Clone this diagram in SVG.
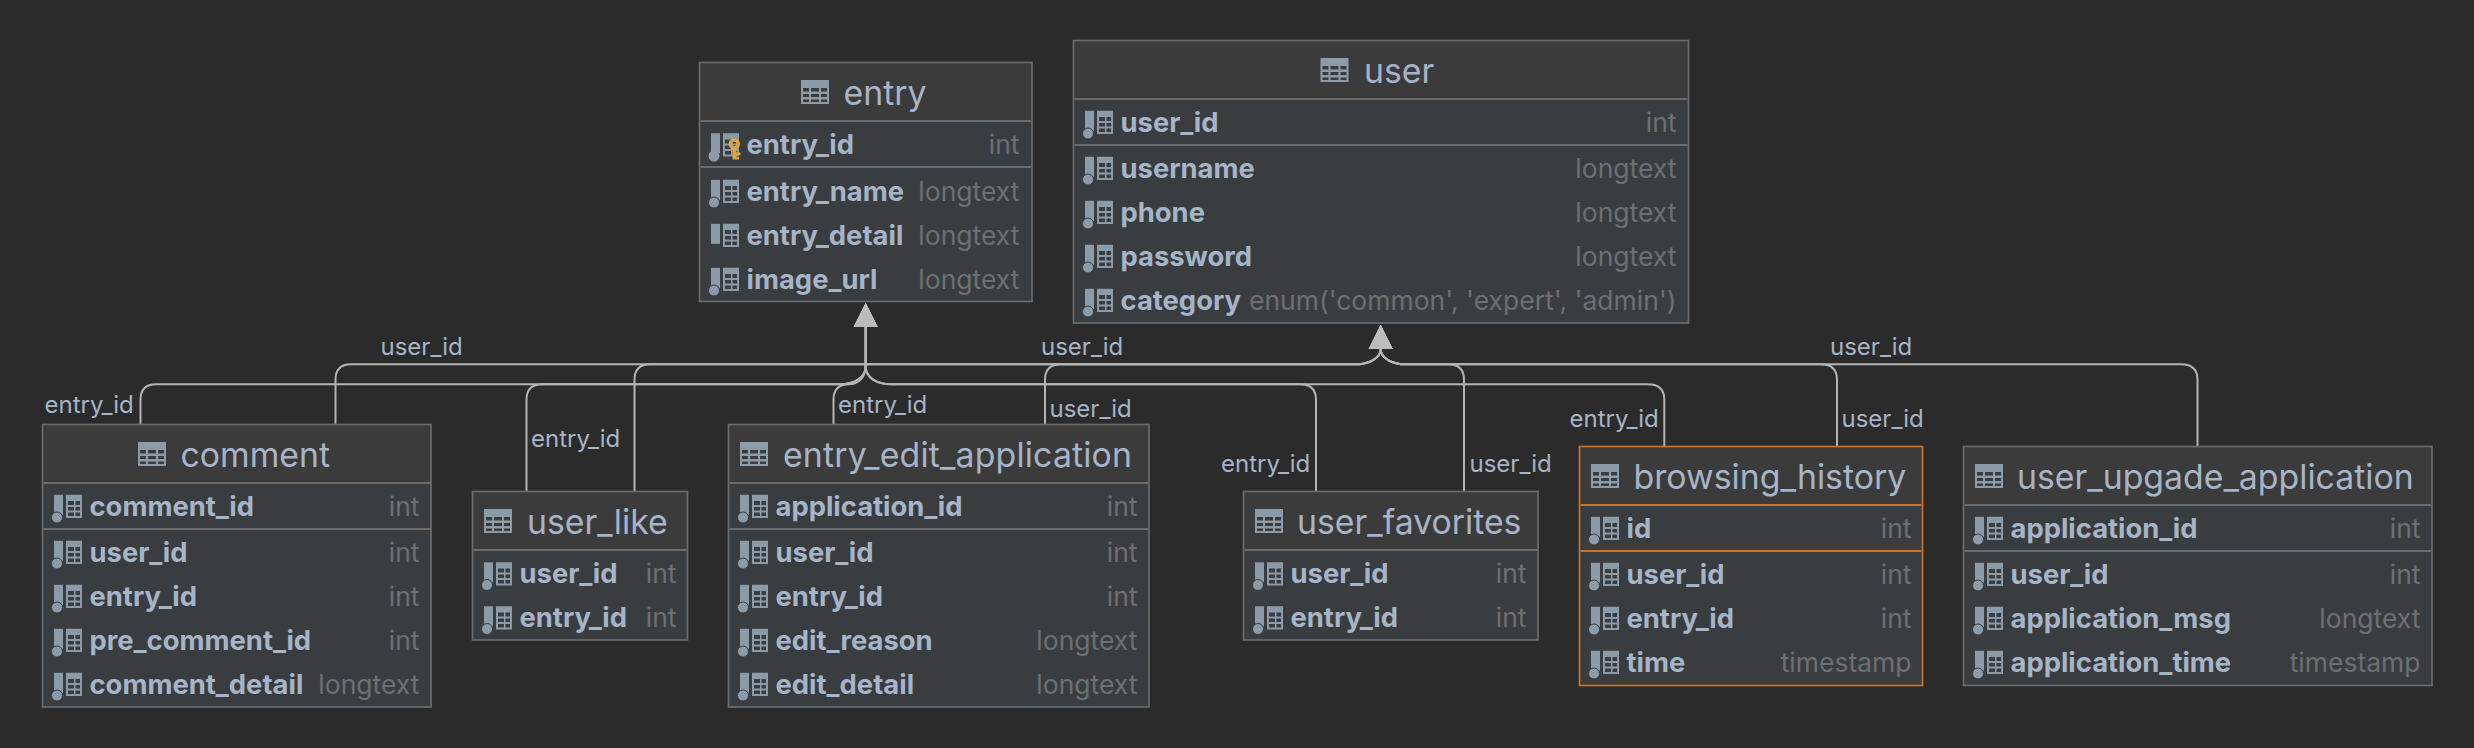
<svg xmlns="http://www.w3.org/2000/svg" width="2474" height="748" viewBox="0 0 2474 748">
<style>
text{font-family:Inter,"Noto Sans","Liberation Sans",sans-serif}
.hd{fill:#3c3b3b}.bd{fill:#3a3d40}
.fr{fill:none;stroke:#6b6b6b;stroke-width:1.700}.ln{stroke:#6b6b6b;stroke-width:2.200}
.or .fr{stroke:#c8722c}.or .ln{stroke:#c8722c}
.t{font-size:33.800px;fill:#a6b4c7}
.c{font-size:27.400px;font-weight:700;fill:#a6b4c7}
.y{font-size:26.500px;fill:#6e6f70;text-anchor:end}
.l{font-size:24px;fill:#a6b4c7}
.e{fill:none;stroke:#b4b4b4;stroke-width:2}
.i{fill:#8c9ba8}
</style>
<defs>
<marker id="tri" markerUnits="userSpaceOnUse" markerWidth="26" markerHeight="26" refX="0" refY="13" orient="auto"><path d="M0 1L24 13L0 25Z" fill="#bcbcbc"/></marker>
<g id="tb"><path class="i" fill-rule="evenodd" d="M0 0H28V24H0ZM2 8V11.500H8V8ZM10 8V11.500H18V8ZM20 8V11.500H26V8ZM2 14V17H8V14ZM10 14V17H18V14ZM20 14V17H26V14ZM2 19.500V22H8V19.500ZM10 19.500V22H18V19.500ZM20 19.500V22H26V19.500Z"/></g>
<g id="cg"><path class="i" fill-rule="evenodd" d="M12 -20.700H28V2.500H12ZM14 -14.500H20V-10.500H14ZM21.500 -14.500V-10.500H26V-14.500ZM14 -8.500V-5H20V-8.500ZM21.500 -8.500V-5H26V-8.500ZM14 -3V.5H20V-3ZM21.500 -3V.5H26V-3Z"/><rect class="i" x="0" y="-20.700" width="9" height="20"/></g>
<g id="col"><use href="#cg"/><circle cx="3" cy="2" r="5.500" class="i" stroke="#3a3d40" stroke-width="1"/></g>
</defs>
<rect width="2474" height="748" fill="#2b2b2b"/>
<g id="connectors">
<path class="e" marker-end="url(#tri)" d="M140.500 424V400Q140.500 384.300 156 384.300H840C854 384.300 865.700 378 865.700 366V327"/>
<path class="e" marker-end="url(#tri)" d="M526.500 491V400Q526.500 384.300 542 384.300H840C854 384.300 865.700 378 865.700 366V327"/>
<path class="e" marker-end="url(#tri)" d="M833.500 424V400Q833.500 384.300 849 384.300C858 384.300 865.700 378 865.700 366V327"/>
<path class="e" marker-end="url(#tri)" d="M1316 491V400Q1316 384.300 1300 384.300H891C877 384.300 865.700 378 865.700 366V327"/>
<path class="e" marker-end="url(#tri)" d="M1664.300 446V400Q1664.300 384.300 1648 384.300H891C877 384.300 865.700 378 865.700 366V327"/>
<path class="e" marker-end="url(#tri)" d="M335.500 424V380Q335.500 364.300 351 364.300H1355C1369 364.300 1380.700 358 1380.700 349"/>
<path class="e" marker-end="url(#tri)" d="M634.500 491V380Q634.500 364.300 650 364.300H1355C1369 364.300 1380.700 358 1380.700 349"/>
<path class="e" marker-end="url(#tri)" d="M1045 424V380Q1045 364.300 1061 364.300H1355C1369 364.300 1380.700 358 1380.700 349"/>
<path class="e" marker-end="url(#tri)" d="M1464 491V380Q1464 364.300 1448 364.300H1406C1392 364.300 1380.700 358 1380.700 349"/>
<path class="e" marker-end="url(#tri)" d="M1837 446V380Q1837 364.300 1821 364.300H1406C1392 364.300 1380.700 358 1380.700 349"/>
<path class="e" marker-end="url(#tri)" d="M2197.500 446V380Q2197.500 364.300 2181 364.300H1406C1392 364.300 1380.700 358 1380.700 349"/>
<text class="l" x="44.500" y="412.500">entry_id</text>
<text class="l" x="380.500" y="355">user_id</text>
<text class="l" x="531" y="446.500">entry_id</text>
<text class="l" x="838" y="412.500">entry_id</text>
<text class="l" x="1049.500" y="417">user_id</text>
<text class="l" x="1041" y="355">user_id</text>
<text class="l" x="1221" y="471.500">entry_id</text>
<text class="l" x="1469.500" y="471.500">user_id</text>
<text class="l" x="1569.500" y="426.500">entry_id</text>
<text class="l" x="1841.500" y="426.500">user_id</text>
<text class="l" x="1830" y="355">user_id</text>
</g>

<g id="entry" transform="translate(699.500 62.500)">
<rect class="bd" width="332.500" height="239"/><rect class="hd" width="332.500" height="58"/>
<rect class="fr" width="332.500" height="239"/><path class="ln" d="M1 58.500H331.500M1 104.500H331.500"/>
<use href="#tb" x="101.500" y="17.500"/><text class="t" x="144" y="42.500">entry</text>
<use href="#cg" x="11.500" y="91.500"/><circle class="i" cx="14.500" cy="93.500" r="5.500"/>
<circle cx="34.800" cy="81.500" r="4" fill="none" stroke="#e0a63c" stroke-width="3.500"/><path fill="#e0a63c" d="M33 86H36.800V97H33ZM36.800 90H41V92.800H36.800ZM36.800 94.500H39.500V97H36.800Z"/>
<text class="c" x="47" y="91.500">entry_id</text><text class="y" x="320" y="91.500">int</text>
<use href="#col" x="11.500" y="138"/><text class="c" x="47" y="138">entry_name</text><text class="y" x="320" y="138">longtext</text>
<use href="#cg" x="11.500" y="182"/><text class="c" x="47" y="182">entry_detail</text><text class="y" x="320" y="182">longtext</text>
<use href="#col" x="11.500" y="226"/><text class="c" x="47" y="226">image_url</text><text class="y" x="320" y="226">longtext</text>
</g>

<g id="user" transform="translate(1073.500 40.500)">
<rect class="bd" width="615" height="282.500"/><rect class="hd" width="615" height="58"/>
<rect class="fr" width="615" height="282.500"/><path class="ln" d="M1 58.500H614M1 104.500H614"/>
<use href="#tb" x="247" y="17.500"/><text class="t" x="290.500" y="42.500">user</text>
<use href="#col" x="11.500" y="91"/><text class="c" x="47" y="91">user_id</text><text class="y" x="603" y="91">int</text>
<use href="#col" x="11.500" y="137"/><text class="c" x="47" y="137">username</text><text class="y" x="603" y="137">longtext</text>
<use href="#col" x="11.500" y="181"/><text class="c" x="47" y="181">phone</text><text class="y" x="603" y="181">longtext</text>
<use href="#col" x="11.500" y="225"/><text class="c" x="47" y="225">password</text><text class="y" x="603" y="225">longtext</text>
<use href="#col" x="11.500" y="269"/><text class="c" x="47" y="269">category</text><text class="y" x="603" y="269">enum('common', 'expert', 'admin')</text>
</g>

<g id="comment" transform="translate(42.500 424.500)">
<rect class="bd" width="388.500" height="282.500"/><rect class="hd" width="388.500" height="58"/>
<rect class="fr" width="388.500" height="282.500"/><path class="ln" d="M1 58.500H387.500M1 104.500H387.500"/>
<use href="#tb" x="95.500" y="17.500"/><text class="t" x="138" y="42.500">comment</text>
<use href="#col" x="11.500" y="91"/><text class="c" x="47" y="91">comment_id</text><text class="y" x="377" y="91">int</text>
<use href="#col" x="11.500" y="137"/><text class="c" x="47" y="137">user_id</text><text class="y" x="377" y="137">int</text>
<use href="#col" x="11.500" y="181"/><text class="c" x="47" y="181">entry_id</text><text class="y" x="377" y="181">int</text>
<use href="#col" x="11.500" y="225"/><text class="c" x="47" y="225">pre_comment_id</text><text class="y" x="377" y="225">int</text>
<use href="#col" x="11.500" y="269"/><text class="c" x="47" y="269">comment_detail</text><text class="y" x="377" y="269">longtext</text>
</g>

<g id="user_like" transform="translate(472.500 491.500)">
<rect class="bd" width="215" height="148.500"/><rect class="hd" width="215" height="58"/>
<rect class="fr" width="215" height="148.500"/><path class="ln" d="M1 58.500H214"/>
<use href="#tb" x="11.500" y="17.500"/><text class="t" x="54.500" y="42.500">user_like</text>
<use href="#col" x="11.500" y="91.500"/><text class="c" x="47" y="91.500">user_id</text><text class="y" x="204" y="91.500">int</text>
<use href="#col" x="11.500" y="135.500"/><text class="c" x="47" y="135.500">entry_id</text><text class="y" x="204" y="135.500">int</text>
</g>

<g id="entry_edit_application" transform="translate(728.500 424.500)">
<rect class="bd" width="420.500" height="282.500"/><rect class="hd" width="420.500" height="58"/>
<rect class="fr" width="420.500" height="282.500"/><path class="ln" d="M1 58.500H419.500M1 104.500H419.500"/>
<use href="#tb" x="11.500" y="17.500"/><text class="t" x="54.500" y="42.500" textLength="349">entry_edit_application</text>
<use href="#col" x="11.500" y="91"/><text class="c" x="47" y="91">application_id</text><text class="y" x="409" y="91">int</text>
<use href="#col" x="11.500" y="137"/><text class="c" x="47" y="137">user_id</text><text class="y" x="409" y="137">int</text>
<use href="#col" x="11.500" y="181"/><text class="c" x="47" y="181">entry_id</text><text class="y" x="409" y="181">int</text>
<use href="#col" x="11.500" y="225"/><text class="c" x="47" y="225">edit_reason</text><text class="y" x="409" y="225">longtext</text>
<use href="#col" x="11.500" y="269"/><text class="c" x="47" y="269">edit_detail</text><text class="y" x="409" y="269">longtext</text>
</g>

<g id="user_favorites" transform="translate(1243.500 491.500)">
<rect class="bd" width="294.500" height="148.500"/><rect class="hd" width="294.500" height="58"/>
<rect class="fr" width="294.500" height="148.500"/><path class="ln" d="M1 58.500H293.500"/>
<use href="#tb" x="11.500" y="17.500"/><text class="t" x="53.500" y="42.500">user_favorites</text>
<use href="#col" x="11.500" y="91.500"/><text class="c" x="47" y="91.500">user_id</text><text class="y" x="283" y="91.500">int</text>
<use href="#col" x="11.500" y="135.500"/><text class="c" x="47" y="135.500">entry_id</text><text class="y" x="283" y="135.500">int</text>
</g>

<g id="browsing_history" class="or" transform="translate(1579.500 446.500)">
<rect class="bd" width="343" height="239"/><rect class="hd" width="343" height="58"/>
<rect class="fr" width="343" height="239"/><path class="ln" d="M1 58.500H342M1 104.500H342"/>
<use href="#tb" x="11.500" y="17.500"/><text class="t" x="54" y="42.500">browsing_history</text>
<use href="#col" x="11.500" y="91"/><text class="c" x="47" y="91">id</text><text class="y" x="332" y="91">int</text>
<use href="#col" x="11.500" y="137"/><text class="c" x="47" y="137">user_id</text><text class="y" x="332" y="137">int</text>
<use href="#col" x="11.500" y="181"/><text class="c" x="47" y="181">entry_id</text><text class="y" x="332" y="181">int</text>
<use href="#col" x="11.500" y="225"/><text class="c" x="47" y="225">time</text><text class="y" x="332" y="225">timestamp</text>
</g>

<g id="user_upgade_application" transform="translate(1963.500 446.500)">
<rect class="bd" width="468.500" height="239"/><rect class="hd" width="468.500" height="58"/>
<rect class="fr" width="468.500" height="239"/><path class="ln" d="M1 58.500H467.500M1 104.500H467.500"/>
<use href="#tb" x="11.500" y="17.500"/><text class="t" x="53.500" y="42.500">user_upgade_application</text>
<use href="#col" x="11.500" y="91"/><text class="c" x="47" y="91">application_id</text><text class="y" x="457" y="91">int</text>
<use href="#col" x="11.500" y="137"/><text class="c" x="47" y="137">user_id</text><text class="y" x="457" y="137">int</text>
<use href="#col" x="11.500" y="181"/><text class="c" x="47" y="181">application_msg</text><text class="y" x="457" y="181">longtext</text>
<use href="#col" x="11.500" y="225"/><text class="c" x="47" y="225">application_time</text><text class="y" x="457" y="225">timestamp</text>
</g>
</svg>
